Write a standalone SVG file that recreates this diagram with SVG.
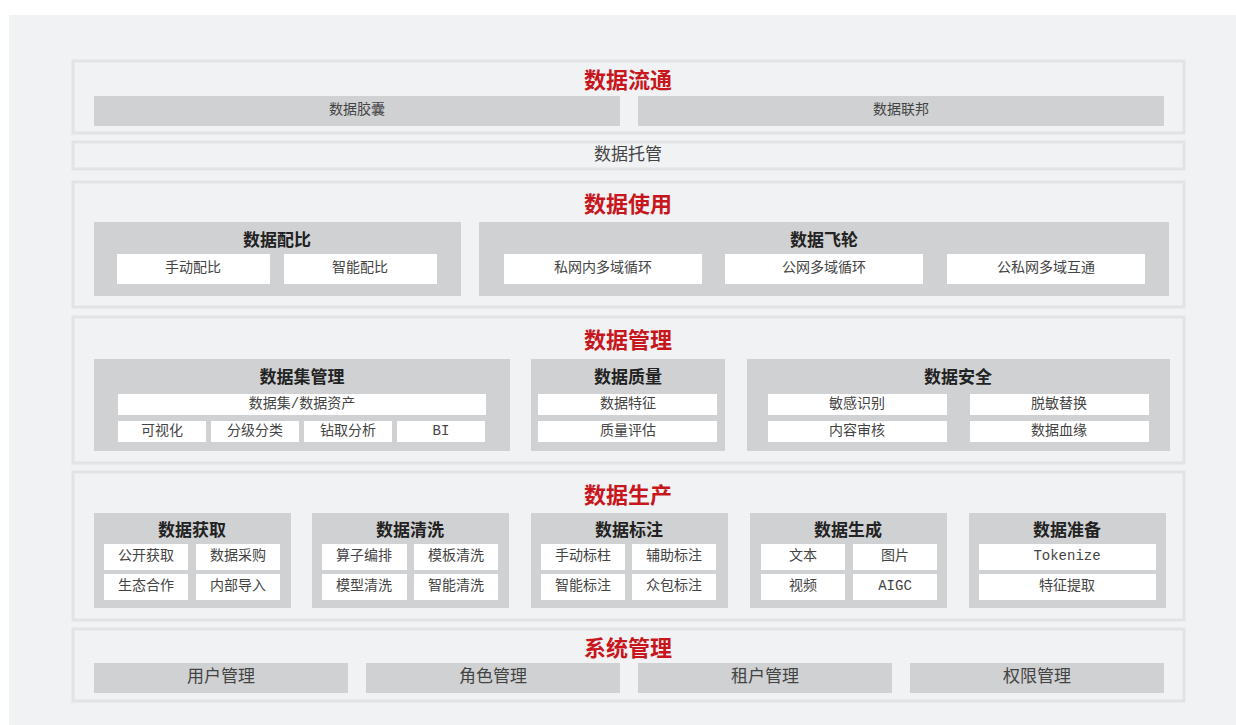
<svg xmlns="http://www.w3.org/2000/svg" width="1236" height="725" viewBox="0 0 1236 725">
<style>
.bg{fill:#f1f2f4}
.frame{fill:#f1f2f4;stroke:#e2e3e6;stroke-width:3}
.grp{fill:#d0d1d3}
.box{fill:#ffffff}
.title{font-family:"Noto Sans CJK SC",sans-serif;font-weight:700;font-size:22px;fill:#c8161d;text-anchor:middle;dominant-baseline:central}
.hdr{font-family:"Noto Sans CJK SC",sans-serif;font-weight:700;font-size:17px;fill:#222;text-anchor:middle;dominant-baseline:central}
.it{font-family:"Liberation Mono","Noto Sans CJK SC",monospace;font-size:14px;fill:#444;text-anchor:middle;dominant-baseline:central}
.it2{font-family:"Liberation Mono","Noto Sans CJK SC",monospace;font-size:17px;fill:#444;text-anchor:middle;dominant-baseline:central}
</style>
<rect x="0" y="0" width="1236" height="725" fill="#ffffff"/>
<rect class="bg" x="9" y="15" width="1227" height="710"/>

<g id="sec-flow">
<rect class="frame" x="73" y="61" width="1111" height="72"/>
<text class="title" x="628" y="78">数据流通</text>
<rect class="grp" x="94" y="96" width="526" height="30"/><text class="it" x="357" y="110">数据胶囊</text>
<rect class="grp" x="638" y="96" width="526" height="30"/><text class="it" x="901" y="110">数据联邦</text>
</g>

<g id="sec-host">
<rect class="frame" x="73" y="142" width="1111" height="27"/>
<text class="it2" x="628" y="155">数据托管</text>
</g>

<g id="sec-use">
<rect class="frame" x="73" y="182" width="1111" height="125"/>
<text class="title" x="628" y="202">数据使用</text>
<g id="grp-ratio">
<rect class="grp" x="94" y="222" width="367" height="74"/>
<text class="hdr" x="277" y="238">数据配比</text>
<rect class="box" x="117" y="254" width="153" height="30"/><text class="it" x="193" y="268">手动配比</text>
<rect class="box" x="284" y="254" width="153" height="30"/><text class="it" x="360" y="268">智能配比</text>
</g>
<g id="grp-flywheel">
<rect class="grp" x="479" y="222" width="690" height="74"/>
<text class="hdr" x="824" y="238">数据飞轮</text>
<rect class="box" x="504" y="254" width="198" height="30"/><text class="it" x="603" y="268">私网内多域循环</text>
<rect class="box" x="725" y="254" width="198" height="30"/><text class="it" x="824" y="268">公网多域循环</text>
<rect class="box" x="947" y="254" width="198" height="30"/><text class="it" x="1046" y="268">公私网多域互通</text>
</g>
</g>

<g id="sec-mgmt">
<rect class="frame" x="73" y="317" width="1111" height="146"/>
<text class="title" x="628" y="338">数据管理</text>
<g id="grp-dataset">
<rect class="grp" x="94" y="359" width="416" height="92"/>
<text class="hdr" x="302" y="375">数据集管理</text>
<rect class="box" x="118" y="394" width="368" height="21"/><text class="it" x="302" y="404">数据集/数据资产</text>
<rect class="box" x="118" y="421" width="88" height="21"/><text class="it" x="162" y="431">可视化</text>
<rect class="box" x="211" y="421" width="88" height="21"/><text class="it" x="255" y="431">分级分类</text>
<rect class="box" x="304" y="421" width="88" height="21"/><text class="it" x="348" y="431">钻取分析</text>
<rect class="box" x="397" y="421" width="88" height="21"/><text class="it" x="441" y="431">BI</text>
</g>
<g id="grp-quality">
<rect class="grp" x="531" y="359" width="194" height="92"/>
<text class="hdr" x="628" y="375">数据质量</text>
<rect class="box" x="538" y="394" width="179" height="21"/><text class="it" x="628" y="404">数据特征</text>
<rect class="box" x="538" y="421" width="179" height="21"/><text class="it" x="628" y="431">质量评估</text>
</g>
<g id="grp-security">
<rect class="grp" x="747" y="359" width="423" height="92"/>
<text class="hdr" x="958" y="375">数据安全</text>
<rect class="box" x="768" y="394" width="179" height="21"/><text class="it" x="857" y="404">敏感识别</text>
<rect class="box" x="970" y="394" width="179" height="21"/><text class="it" x="1059" y="404">脱敏替换</text>
<rect class="box" x="768" y="421" width="179" height="21"/><text class="it" x="857" y="431">内容审核</text>
<rect class="box" x="970" y="421" width="179" height="21"/><text class="it" x="1059" y="431">数据血缘</text>
</g>
</g>

<g id="sec-prod">
<rect class="frame" x="73" y="472" width="1111" height="148"/>
<text class="title" x="628" y="493">数据生产</text>
<g id="grp-acquire">
<rect class="grp" x="94" y="513" width="197" height="95"/>
<text class="hdr" x="192" y="528">数据获取</text>
<rect class="box" x="104" y="544" width="84" height="26"/><text class="it" x="146" y="556">公开获取</text>
<rect class="box" x="196" y="544" width="84" height="26"/><text class="it" x="238" y="556">数据采购</text>
<rect class="box" x="104" y="574" width="84" height="26"/><text class="it" x="146" y="586">生态合作</text>
<rect class="box" x="196" y="574" width="84" height="26"/><text class="it" x="238" y="586">内部导入</text>
</g>
<g id="grp-clean">
<rect class="grp" x="312" y="513" width="197" height="95"/>
<text class="hdr" x="410" y="528">数据清洗</text>
<rect class="box" x="322" y="544" width="85" height="26"/><text class="it" x="364" y="556">算子编排</text>
<rect class="box" x="414" y="544" width="84" height="26"/><text class="it" x="456" y="556">模板清洗</text>
<rect class="box" x="322" y="574" width="85" height="26"/><text class="it" x="364" y="586">模型清洗</text>
<rect class="box" x="414" y="574" width="84" height="26"/><text class="it" x="456" y="586">智能清洗</text>
</g>
<g id="grp-label">
<rect class="grp" x="531" y="513" width="197" height="95"/>
<text class="hdr" x="629" y="528">数据标注</text>
<rect class="box" x="541" y="544" width="84" height="26"/><text class="it" x="583" y="556">手动标柱</text>
<rect class="box" x="632" y="544" width="84" height="26"/><text class="it" x="674" y="556">辅助标注</text>
<rect class="box" x="541" y="574" width="84" height="26"/><text class="it" x="583" y="586">智能标注</text>
<rect class="box" x="632" y="574" width="84" height="26"/><text class="it" x="674" y="586">众包标注</text>
</g>
<g id="grp-gen">
<rect class="grp" x="750" y="513" width="197" height="95"/>
<text class="hdr" x="848" y="528">数据生成</text>
<rect class="box" x="761" y="544" width="84" height="26"/><text class="it" x="803" y="556">文本</text>
<rect class="box" x="853" y="544" width="84" height="26"/><text class="it" x="895" y="556">图片</text>
<rect class="box" x="761" y="574" width="84" height="26"/><text class="it" x="803" y="586">视频</text>
<rect class="box" x="853" y="574" width="84" height="26"/><text class="it" x="895" y="586">AIGC</text>
</g>
<g id="grp-prep">
<rect class="grp" x="969" y="513" width="197" height="95"/>
<text class="hdr" x="1067" y="528">数据准备</text>
<rect class="box" x="979" y="544" width="177" height="26"/><text class="it" x="1067" y="556">Tokenize</text>
<rect class="box" x="979" y="574" width="177" height="26"/><text class="it" x="1067" y="586">特征提取</text>
</g>
</g>

<g id="sec-sys">
<rect class="frame" x="73" y="629" width="1111" height="72"/>
<text class="title" x="628" y="646">系统管理</text>
<rect class="grp" x="94" y="663" width="254" height="30"/><text class="it2" x="221" y="677">用户管理</text>
<rect class="grp" x="366" y="663" width="254" height="30"/><text class="it2" x="493" y="677">角色管理</text>
<rect class="grp" x="638" y="663" width="254" height="30"/><text class="it2" x="765" y="677">租户管理</text>
<rect class="grp" x="910" y="663" width="254" height="30"/><text class="it2" x="1037" y="677">权限管理</text>
</g>

<g id="connectors"></g>
</svg>
